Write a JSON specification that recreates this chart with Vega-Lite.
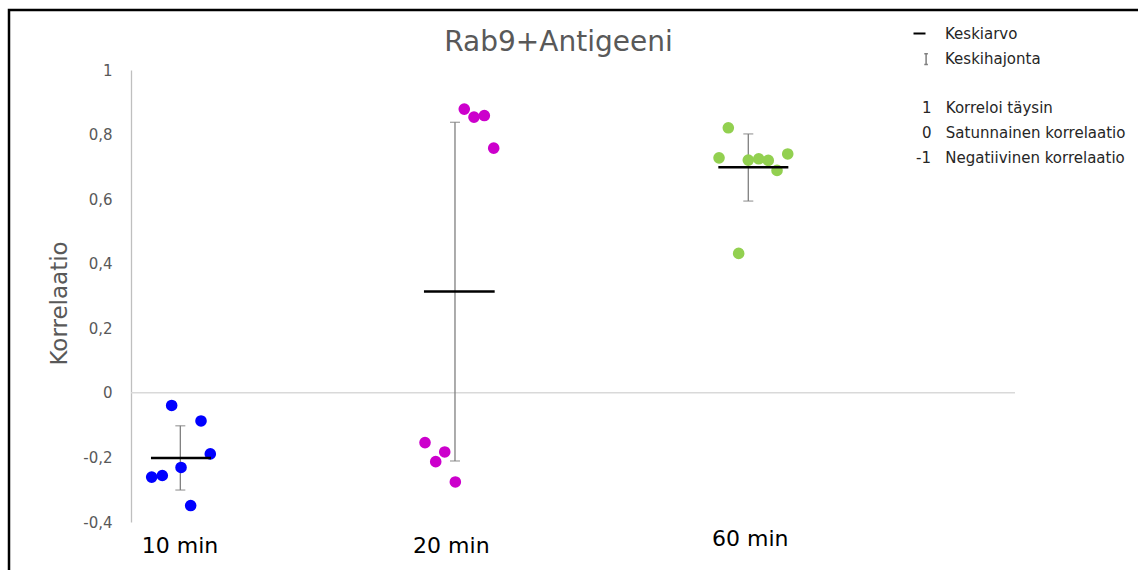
{
  "$schema": "https://vega.github.io/schema/vega-lite/v6.json",
  "width": 1129,
  "height": 560,
  "autosize": {"type": "none"},
  "padding": {"left": 9, "top": 10, "right": 0, "bottom": 0},
  "background": "white",
  "title": {
    "text": "Rab9+Antigeeni",
    "frame": "group",
    "anchor": "middle",
    "orient": "top",
    "baseline": "middle",
    "offset": 0,
    "dy": 61,
    "dx": -15,
    "font": "DejaVu Sans",
    "fontSize": 28,
    "fontWeight": "normal",
    "color": "#595959"
  },
  "datasets": {
    "points": [
      {"grp": "10 min", "x": 4.60, "r": -0.039},
      {"grp": "10 min", "x": 7.92, "r": -0.087},
      {"grp": "10 min", "x": 8.97, "r": -0.189},
      {"grp": "10 min", "x": 5.66, "r": -0.231},
      {"grp": "10 min", "x": 2.34, "r": -0.261},
      {"grp": "10 min", "x": 3.54, "r": -0.256},
      {"grp": "10 min", "x": 6.75, "r": -0.349},
      {"grp": "20 min", "x": 37.70, "r": 0.879},
      {"grp": "20 min", "x": 38.80, "r": 0.854},
      {"grp": "20 min", "x": 39.97, "r": 0.859},
      {"grp": "20 min", "x": 41.03, "r": 0.758},
      {"grp": "20 min", "x": 33.26, "r": -0.154},
      {"grp": "20 min", "x": 35.49, "r": -0.183},
      {"grp": "20 min", "x": 34.47, "r": -0.213},
      {"grp": "20 min", "x": 36.69, "r": -0.276},
      {"grp": "60 min", "x": 67.57, "r": 0.821},
      {"grp": "60 min", "x": 66.52, "r": 0.728},
      {"grp": "60 min", "x": 69.83, "r": 0.721},
      {"grp": "60 min", "x": 71.01, "r": 0.725},
      {"grp": "60 min", "x": 72.09, "r": 0.720},
      {"grp": "60 min", "x": 73.08, "r": 0.689},
      {"grp": "60 min", "x": 74.29, "r": 0.740},
      {"grp": "60 min", "x": 68.74, "r": 0.432}
    ],
    "stats": [
      {"grp": "10 min", "x1": 2.26, "x2": 9.05, "xe": 5.58, "mean": -0.202, "lo": -0.301, "hi": -0.102},
      {"grp": "20 min", "x1": 33.14, "x2": 41.14, "xe": 36.65, "mean": 0.314, "lo": -0.211, "hi": 0.838},
      {"grp": "60 min", "x1": 66.44, "x2": 74.36, "xe": 69.83, "mean": 0.699, "lo": 0.594, "hi": 0.802}
    ]
  },
  "layer": [
    {
      "data": {"values": [{"v": 0}]},
      "mark": {"type": "rule", "color": "#d9d9d9", "strokeWidth": 1.5},
      "encoding": {
        "y": {"field": "v", "type": "quantitative"},
        "x": {"datum": 0, "type": "quantitative"},
        "x2": {"datum": 100}
      }
    },
    {
      "data": {"name": "stats"},
      "mark": {"type": "rule", "strokeWidth": 1.3},
      "encoding": {
        "x": {"field": "xe", "type": "quantitative"},
        "y": {"field": "lo", "type": "quantitative"},
        "y2": {"field": "hi"},
        "stroke": {"datum": "Keskihajonta", "type": "nominal"}
      }
    },
    {
      "data": {"name": "stats"},
      "mark": {"type": "tick", "orient": "horizontal", "size": 10, "thickness": 1.3, "color": "#7f7f7f"},
      "encoding": {
        "x": {"field": "xe", "type": "quantitative"},
        "y": {"field": "lo", "type": "quantitative"}
      }
    },
    {
      "data": {"name": "stats"},
      "mark": {"type": "tick", "orient": "horizontal", "size": 10, "thickness": 1.3, "color": "#7f7f7f"},
      "encoding": {
        "x": {"field": "xe", "type": "quantitative"},
        "y": {"field": "hi", "type": "quantitative"}
      }
    },
    {
      "data": {"name": "points"},
      "mark": {"type": "point", "filled": true, "size": 135, "opacity": 1},
      "encoding": {
        "x": {
          "field": "x",
          "type": "quantitative",
          "scale": {"domain": [0, 100], "range": [122, 1006], "nice": false, "zero": false},
          "axis": {
            "orient": "bottom",
            "offset": -48,
            "title": null,
            "values": [5.49, 36.18, 70.0],
            "labelExpr": "datum.value < 20 ? '10 min' : datum.value < 50 ? '20 min' : '60 min'",
            "domain": false,
            "ticks": false,
            "tickSize": 0,
            "grid": false,
            "labelFont": "DejaVu Sans",
            "labelFontSize": 22,
            "labelColor": "#000000",
            "labelPadding": {"condition": {"test": "datum.value > 60", "value": 6}, "value": 13},
            "labelFlush": false,
            "labelOverlap": false
          }
        },
        "y": {
          "field": "r",
          "type": "quantitative",
          "scale": {"domain": [-0.4, 1], "range": [512, 60], "nice": false, "zero": false},
          "axis": {
            "title": "Korrelaatio",
            "titleFont": "DejaVu Sans",
            "titleFontSize": 23,
            "titleFontWeight": "normal",
            "titleColor": "#595959",
            "titlePadding": 11,
            "titleY": 293,
            "offset": -122,
            "values": [-0.4, -0.2, 0, 0.2, 0.4, 0.6, 0.8, 1],
            "labelExpr": "replace(toString(datum.value), '.', ',')",
            "labelFont": "DejaVu Sans",
            "labelFontSize": 15,
            "labelColor": "#595959",
            "labelPadding": 19,
            "ticks": false,
            "tickSize": 0,
            "grid": false,
            "domainColor": "#bfbfbf",
            "domainWidth": 1.3
          }
        },
        "fill": {
          "field": "grp",
          "type": "nominal",
          "scale": {"domain": ["10 min", "20 min", "60 min"], "range": ["#0000ff", "#cc00cc", "#92d050"]},
          "legend": null
        }
      }
    },
    {
      "data": {"name": "stats"},
      "mark": {"type": "rule", "strokeWidth": 2.5},
      "encoding": {
        "x": {"field": "x1", "type": "quantitative"},
        "x2": {"field": "x2"},
        "y": {"field": "mean", "type": "quantitative"},
        "stroke": {
          "datum": "Keskiarvo",
          "type": "nominal",
          "scale": {
            "domain": ["Keskiarvo", "Keskihajonta", " ", "1", "0", "-1"],
            "range": ["#000000", "#7f7f7f", "#ffffff", "#ffffff", "#ffffff", "#ffffff"]
          },
          "legend": {
            "title": null,
            "orient": "none",
            "legendX": 903,
            "legendY": 16,
            "direction": "vertical",
            "padding": 0,
            "symbolSize": 144,
            "symbolStrokeWidth": 2,
            "labelFont": "DejaVu Sans",
            "labelFontSize": 15,
            "labelColor": "#262626",
            "labelOffset": 18,
            "labelLimit": 400,
            "rowPadding": 8.6,
            "labelExpr": "datum.value === '1' ? '1\u00a0\u00a0\u00a0Korreloi täysin' : datum.value === '0' ? '0\u00a0\u00a0\u00a0Satunnainen korrelaatio' : datum.value === '-1' ? '-1\u00a0\u00a0\u00a0Negatiivinen korrelaatio' : datum.value === ' ' ? '' : datum.label",
            "encode": {
              "symbols": {
                "update": {
                  "shape": {"signal": "datum.value === 'Keskiarvo' ? 'M-1,0H1' : 'M0.8,-0.9H1.4M1.1,-0.9V0.9M0.8,0.9H1.4'"},
                  "stroke": {"value": "#000000"},
                  "opacity": {"signal": "datum.value === 'Keskiarvo' || datum.value === 'Keskihajonta' ? 1 : 0"},
                  "strokeWidth": {"signal": "datum.value === 'Keskiarvo' ? 2 : 1.5"}
                }
              },
              "labels": {
                "update": {
                  "dx": {"signal": "datum.value === '-1' ? -29 : (datum.value === '1' || datum.value === '0') ? -23 : 0"}
                }
              }
            }
          }
        }
      }
    }
  ],
  "config": {
    "view": {"stroke": "#000000", "strokeWidth": 2.5, "strokeDash": [1129, 1689, 560]}
  }
}
